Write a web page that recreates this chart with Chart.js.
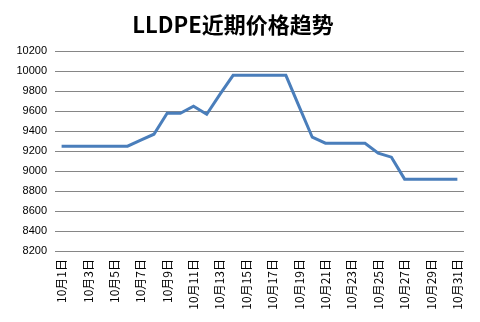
<!DOCTYPE html>
<html>
<head>
<meta charset="utf-8">
<script src="https://cdn.jsdelivr.net/npm/chart.js@4"></script>
<style>
  html, body { margin: 0; padding: 0; background: #fff; }
  #wrap { width: 480px; height: 322px; }
</style>
</head>
<body>
<div id="wrap"><canvas id="priceChart" width="480" height="322"></canvas></div>
<script>
// 日期
const days = [];
for (let d = 1; d <= 31; d++) days.push("10月" + d + "日");

// LLDPE 价格
const prices = [
    9250, 9250, 9250, 9250, 9250, 9250, 9310, 9370, 9580, 9580,
    9650, 9570, 9770, 9960, 9960, 9960, 9960, 9960, 9650, 9340,
    9280, 9280, 9280, 9280, 9180, 9140, 8920, 8920, 8920, 8920, 8920
];

const yMin = 8200, yMax = 10200, yStep = 200;
const chartTitle = "LLDPE近期价格趋势";

let ctx = document.getElementById("priceChart").getContext("2d");

new Chart(ctx, {
    type: "line",
    data: {
        labels: days,
        datasets: [{
            label: "价格",
            data: prices,
            borderColor: "#4A7EBB",
            borderWidth: 3,
            pointRadius: 0,
            tension: 0,
            fill: false
        }]
    },
    options: {
        responsive: false,
        animation: false,
        layout: { padding: { left: 0, right: 14, top: 0, bottom: 0 } },
        plugins: {
            legend: { display: false },
            tooltip: { enabled: false },
            title: {
                display: true,
                text: chartTitle,
                color: "#000",
                font: { family: "'Noto Sans CJK SC', 'Noto Sans', sans-serif", size: 22, weight: "bold", lineHeight: 1.2 },
                padding: { top: 11, bottom: 14 }
            }
        },
        scales: {
            x: {
                offset: true,
                grid: { display: false, drawTicks: false },
                border: { display: false },
                ticks: {
                    autoSkip: false,
                    minRotation: 90,
                    maxRotation: 90,
                    padding: 8,
                    color: "#000",
                    font: { family: "'Noto Sans CJK SC', sans-serif", size: 12 },
                    callback: function(val, i) { return i % 2 === 0 ? this.getLabelForValue(val) : ""; }
                },
                afterFit: function(scale) { scale.height = 71; }
            },
            y: {
                min: yMin,
                max: yMax,
                grid: { color: "#868686", lineWidth: 1, drawTicks: false },
                border: { display: false },
                ticks: {
                    stepSize: yStep,
                    padding: 8,
                    color: "#000",
                    font: { family: "'Liberation Sans', Arial, sans-serif", size: 11 },
                    callback: function(v) { return String(v); }
                },
                afterFit: function(scale) { scale.width = 55; }
            }
        }
    }
});
</script>
</body>
</html>
